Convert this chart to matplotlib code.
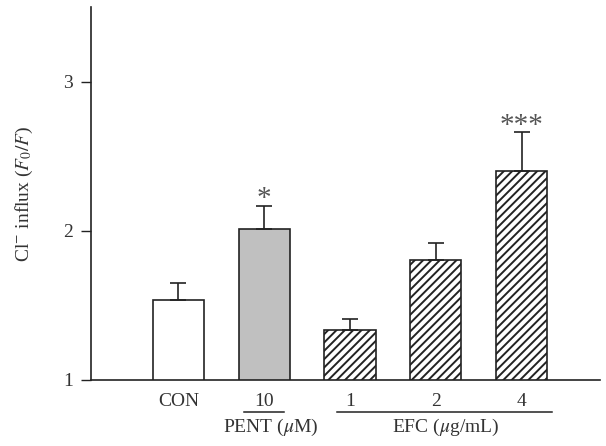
import numpy as np
import matplotlib
matplotlib.use("Agg")
import matplotlib.pyplot as plt

# data
groups = ["CON", "10", "1", "2", "4"]
means = [1.54, 2.015, 1.335, 1.805, 2.40]
errs = [0.11, 0.155, 0.075, 0.115, 0.265]
stars = ["", "*", "", "", "***"]
fills = ["white", "#c0c0c0", "white", "white", "white"]
hatches = ["", "", "////", "////", "////"]

plt.rcParams["font.family"] = "Liberation Serif"
plt.rcParams["mathtext.fontset"] = "stix"
plt.rcParams["hatch.linewidth"] = 1.4
plt.rcParams["hatch.color"] = "#222222"

txt = "#333333"
ln = "#222222"
fs = 14

fig = plt.figure(figsize=(6.06, 4.46), dpi=100)
ax = fig.add_axes([91 / 606, 66 / 446, 509 / 606, 373 / 446])

x = np.arange(1, len(groups) + 1)
ax.bar(x, means, width=0.6, color=fills, hatch=hatches, edgecolor=ln,
       linewidth=1.2, zorder=2)
ax.errorbar(x, means, yerr=[np.zeros(len(errs)), errs], fmt="none",
            ecolor=ln, elinewidth=1.2, capsize=5.8, capthick=1.2, zorder=3)

for xi, m, e, s in zip(x, means, errs, stars):
    if s:
        ax.text(xi, m + e - 0.045, s, ha="center", va="bottom",
                fontsize=21, color="#555555")

ax.set_xlim(-0.02, 5.915)
ax.set_ylim(1, 3.503)
ax.set_yticks([1, 2, 3])
ax.set_xticks(x)
ax.set_xticklabels(groups)
ax.tick_params(axis="x", length=0, pad=9, labelsize=fs, labelcolor=txt)
ax.tick_params(axis="y", length=7, width=1, color=ln, direction="out",
               labelsize=fs, labelcolor=txt, pad=6)

for side in ["top", "right"]:
    ax.spines[side].set_visible(False)
for side in ["left", "bottom"]:
    ax.spines[side].set_color(ln)
    ax.spines[side].set_linewidth(1.2)

ax.set_ylabel(r"Cl$^{-}$ influx ($F_0/F$)", fontsize=fs, color=txt,
              labelpad=20)

# group labels under the x tick labels
tr = ax.get_xaxis_transform()
ax.plot([1.765, 2.235], [-0.086, -0.086], transform=tr, color=ln,
        linewidth=1.1, clip_on=False)
ax.plot([2.85, 5.355], [-0.086, -0.086], transform=tr, color=ln,
        linewidth=1.1, clip_on=False)
ax.text(2.08, -0.126, r"PENT ($\mu$M)", transform=tr, ha="center",
        va="center", fontsize=fs, color=txt)
ax.text(4.11, -0.126, r"EFC ($\mu$g/mL)", transform=tr, ha="center",
        va="center", fontsize=fs, color=txt)

fig.savefig("out.png", dpi=100)
